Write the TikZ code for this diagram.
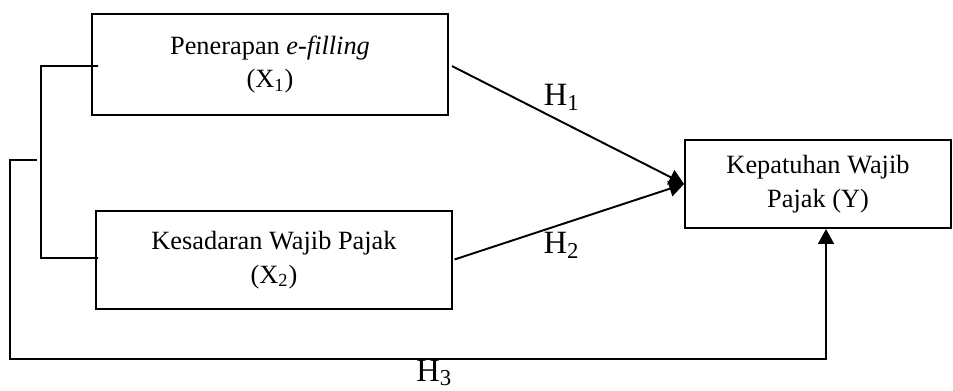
\documentclass[tikz,border=0pt]{standalone}
\usepackage{fontspec}
\setmainfont{Liberation Serif}
\usetikzlibrary{arrows.meta, calc, positioning}
\tikzset{
  box/.style={draw, line width=1.1pt, align=center, inner sep=0pt, font=\fontsize{15}{19}\selectfont},
  hyp/.style={font=\fontsize{18.5}{22}\selectfont, inner sep=2pt},
  conn/.style={line width=1.1pt},
  arr/.style={conn, -{Triangle[length=8.5pt, width=9pt]}}
}
\begin{document}
\begin{tikzpicture}[x=0.02cm, y=-0.02cm]
\useasboundingbox (0,0) rectangle (953,390);

\node[box, minimum width=7.12cm, minimum height=2.02cm] (X1) at (270,64.5) {Penerapan \textit{e-filling}\\(X\textsubscript{1})};
\node[box, minimum width=7.12cm, minimum height=1.96cm] (X2) at (274,260) {Kesadaran Wajib Pajak\\(X\textsubscript{2})};
\node[box, minimum width=5.32cm, minimum height=1.76cm] (Y) at (818,184) {Kepatuhan Wajib\\Pajak (Y)};

\draw[arr, shorten <=2pt] (X1.east) -- node[hyp, above, pos=.48, yshift=4pt]{H\textsubscript{1}} (Y.west);
\draw[arr, shorten <=1pt] (X2.east) -- node[hyp, below, pos=.47, yshift=-2pt]{H\textsubscript{2}} (Y.west);

% bracket X1 - X2
\coordinate (b1) at (41,66);
\coordinate (b2) at (41,258);
\draw[conn] ($(X1.west)+(7,1.5)$) -- (b1) -- (b2) -- ($(X2.west)+(3,-2)$);

% H3
\coordinate (m) at (37,160);
\coordinate (c) at ($(Y.south)+(8,0)$);
\draw[arr] (m) -| (10,359) -| node[hyp, below, pos=.26, inner sep=0pt]{H\textsubscript{3}} (c);
\end{tikzpicture}
\end{document}
